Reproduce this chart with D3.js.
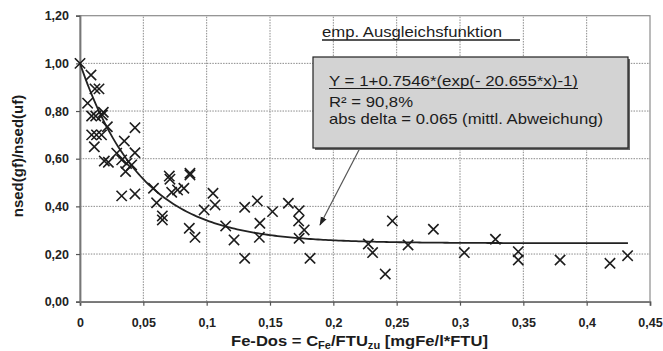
<!DOCTYPE html>
<html><head><meta charset="utf-8">
<script src="https://cdn.jsdelivr.net/npm/d3@7"></script>
<style>
html,body{margin:0;padding:0;background:#fff;}
svg{display:block;font-family:"Liberation Sans",Arial,sans-serif;}
</style></head>
<body><svg id="c" width="663" height="351"></svg>
<script>
// ---- data ----
const xTickValues = [0,0.05,0.1,0.15,0.2,0.25,0.3,0.35,0.4,0.45];
const xTickLabels = ["0","0,05","0,1","0,15","0,2","0,25","0,3","0,35","0,4","0,45"];
const yTickValues = [0,0.2,0.4,0.6,0.8,1.0,1.2];
const yTickLabels = ["0,00","0,20","0,40","0,60","0,80","1,00","1,20"];
const pointsX = [0.000,0.0087,0.0118,0.015,0.006,0.0092,0.0124,0.0184,0.0176,0.0216,0.0434,0.0092,0.013,0.017,0.0113,0.035,0.0434,0.029,0.0192,0.0224,0.0329,0.0368,0.0408,0.036,0.0329,0.0434,0.058,0.0605,0.065,0.065,0.0705,0.071,0.0724,0.077,0.082,0.0868,0.0868,0.0863,0.0908,0.098,0.105,0.1066,0.115,0.1216,0.130,0.130,0.140,0.142,0.1416,0.152,0.1645,0.173,0.1726,0.177,0.173,0.1816,0.2276,0.231,0.2466,0.241,0.259,0.279,0.3034,0.328,0.346,0.346,0.379,0.4184,0.4323];
const pointsY = [1.00,0.951,0.893,0.893,0.833,0.779,0.779,0.795,0.783,0.734,0.730,0.70,0.70,0.70,0.65,0.674,0.625,0.623,0.59,0.585,0.595,0.58,0.574,0.546,0.444,0.452,0.476,0.415,0.36,0.343,0.527,0.514,0.459,0.469,0.476,0.539,0.532,0.308,0.27,0.385,0.455,0.406,0.318,0.259,0.396,0.182,0.423,0.329,0.27,0.378,0.413,0.382,0.339,0.301,0.266,0.182,0.242,0.206,0.339,0.116,0.238,0.304,0.206,0.262,0.21,0.175,0.175,0.161,0.193];
const fitA = 0.7546, fitB = 20.655, fitXMax = 0.4326;
const yTitle = "nsed(gf)/nsed(uf)";
const noteTitle = "emp. Ausgleichsfunktion";
const boxLines = ["Y = 1+0.7546*(exp(- 20.655*x)-1)","R² = 90,8%","abs delta = 0.065 (mittl. Abweichung)"];

// ---- chart ----
const svg = d3.select("#c");
const x = d3.scaleLinear().domain([0,0.45]).range([80,650]);
const y = d3.scaleLinear().domain([0,1.2]).range([301.7,15.7]);
const ink = "#1c1c1c";

// grid
svg.append("g").selectAll("line").data(xTickValues.slice(1,-1)).join("line")
  .attr("x1",d=>x(d)).attr("x2",d=>x(d)).attr("y1",y(0)).attr("y2",y(1.2))
  .attr("stroke","#8a8a8a").attr("stroke-width",1).attr("stroke-dasharray","1.5,1.2");
svg.append("g").selectAll("line").data(yTickValues.slice(1,-1)).join("line")
  .attr("x1",x(0)).attr("x2",x(0.45)).attr("y1",d=>y(d)).attr("y2",d=>y(d))
  .attr("stroke","#8a8a8a").attr("stroke-width",1).attr("stroke-dasharray","1.5,1.2");

// frame
svg.append("rect").attr("x",x(0)).attr("y",y(1.2)).attr("width",x(0.45)-x(0)).attr("height",y(0)-y(1.2))
  .attr("fill","none").attr("stroke","#8c8c8c").attr("stroke-width",1.2);

// axes
const xAxis = svg.append("g").attr("transform",`translate(0,${y(0)})`)
  .call(d3.axisBottom(x).tickValues(xTickValues).tickFormat((d,i)=>xTickLabels[i]).tickSize(4).tickPadding(12));
const yAxis = svg.append("g").attr("transform",`translate(${x(0)},0)`)
  .call(d3.axisLeft(y).tickValues(yTickValues).tickFormat((d,i)=>yTickLabels[i]).tickSize(4).tickPadding(7));
[xAxis,yAxis].forEach(a=>{
  a.select(".domain").attr("stroke","#777").attr("stroke-width",1.8);
  a.selectAll(".tick line").attr("stroke","#555").attr("stroke-width",1.2);
  a.selectAll(".tick text").attr("fill","#222").style("font-size","12.5px").style("font-weight","bold")
   .style("font-family","'Liberation Sans',Arial,sans-serif");
});

// axis titles
const xt = svg.append("text").attr("x",231).attr("y",346).attr("fill",ink)
  .style("font-size","15px").style("font-weight","bold");
xt.append("tspan").text("Fe-Dos = C");
xt.append("tspan").attr("dy",3).style("font-size","10px").text("Fe");
xt.append("tspan").attr("dy",-3).text("/FTU");
xt.append("tspan").attr("dy",3).style("font-size","10px").text("zu");
xt.append("tspan").attr("dy",-3).text(" [mgFe/l*FTU]");
xt.attr("textLength",257).attr("lengthAdjust","spacingAndGlyphs");

svg.append("text").attr("transform",`translate(23,156) rotate(-90)`).attr("text-anchor","middle")
  .attr("fill",ink).style("font-size","15px").style("font-weight","bold").text(yTitle);

// fit curve
const curveData = d3.range(0, fitXMax+1e-9, 0.002).concat([fitXMax]);
svg.append("path").datum(curveData)
  .attr("d", d3.line().x(d=>x(d)).y(d=>y(1+fitA*(Math.exp(-fitB*d)-1))).curve(d3.curveLinear))
  .attr("fill","none").attr("stroke","#222").attr("stroke-width",1.8);

// points (x markers)
const s = 4.6;
const pts = svg.append("g").attr("stroke",ink).attr("stroke-width",1.6).attr("stroke-linecap","square");
pointsX.forEach((px,i)=>{
  const cx = x(px), cy = y(pointsY[i]);
  pts.append("path").attr("d",`M${cx-s},${cy-s}L${cx+s},${cy+s}M${cx-s},${cy+s}L${cx+s},${cy-s}`).attr("fill","none");
});

// annotation title
svg.append("text").attr("x",322).attr("y",37).attr("fill",ink).style("font-size","14px")
  .attr("textLength",180).attr("lengthAdjust","spacingAndGlyphs").text(noteTitle);
svg.append("line").attr("x1",322).attr("x2",520).attr("y1",40).attr("y2",40).attr("stroke",ink).attr("stroke-width",1.3);

// arrow
svg.append("defs").append("marker").attr("id","ah").attr("viewBox","0 0 10 10").attr("refX",9).attr("refY",5)
  .attr("markerWidth",9).attr("markerHeight",9).attr("markerUnits","userSpaceOnUse").attr("orient","auto")
  .append("path").attr("d","M0,1.5L10,5L0,8.5Z").attr("fill","#222");
svg.append("line").attr("x1",360).attr("y1",148).attr("x2",320).attr("y2",225)
  .attr("stroke","#555").attr("stroke-width",1.2).attr("marker-end","url(#ah)");

// box
svg.append("rect").attr("x",315).attr("y",59).attr("width",315).attr("height",91).attr("fill","#666");
svg.append("rect").attr("x",313).attr("y",57).attr("width",315).attr("height",91)
  .attr("fill","#d3d3d3").attr("stroke","#222").attr("stroke-width",1.2);
const bl = [[85.7,249],[107.3,84],[123.5,274]];
boxLines.forEach((t,i)=>{
  svg.append("text").attr("x",329).attr("y",bl[i][0]).attr("fill",ink).style("font-size","14.5px")
    .attr("textLength",bl[i][1]).attr("lengthAdjust","spacingAndGlyphs").text(t);
});
svg.append("line").attr("x1",329).attr("x2",578).attr("y1",88.5).attr("y2",88.5).attr("stroke",ink).attr("stroke-width",1.2);
</script></body></html>
